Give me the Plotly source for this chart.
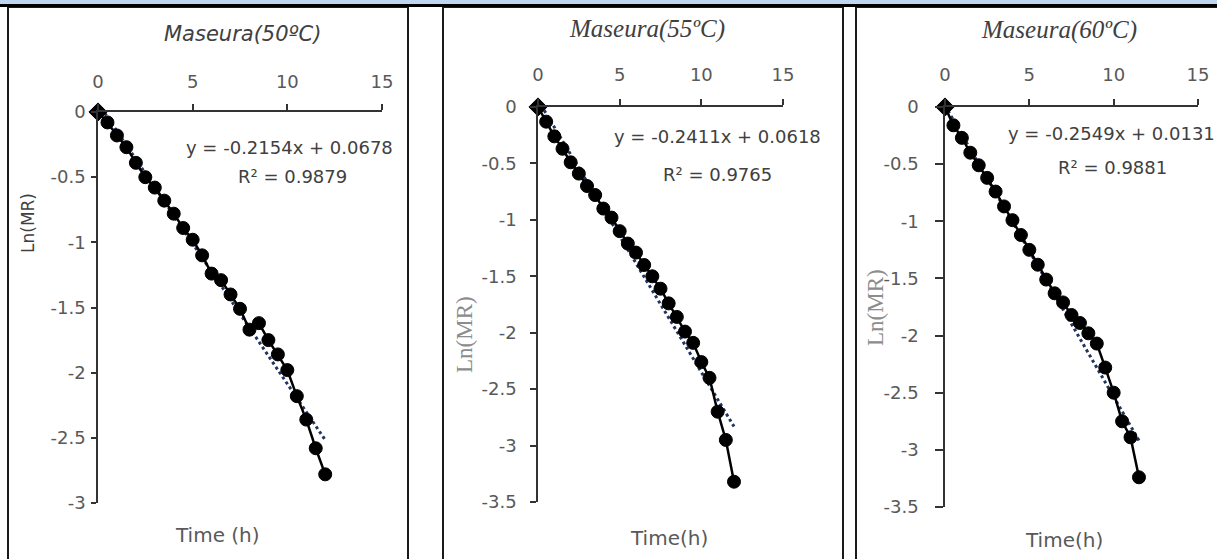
import plotly.graph_objects as go

W, H = 1217, 559

# ---------------- data ----------------
time_50 = [0, 0.5, 1, 1.5, 2, 2.5, 3, 3.5, 4, 4.5, 5, 5.5, 6, 6.5, 7, 7.5, 8, 8.5, 9, 9.5, 10, 10.5, 11, 11.5, 12]
lnmr_50 = [0, -0.08, -0.18, -0.27, -0.39, -0.50, -0.58, -0.68, -0.78, -0.89, -0.98, -1.10, -1.24, -1.29,
           -1.40, -1.51, -1.67, -1.62, -1.75, -1.86, -1.98, -2.18, -2.36, -2.58, -2.78]

time_55 = [0, 0.5, 1, 1.5, 2, 2.5, 3, 3.5, 4, 4.5, 5, 5.5, 6, 6.5, 7, 7.5, 8, 8.5, 9, 9.5, 10, 10.5, 11, 11.5, 12]
lnmr_55 = [0, -0.13, -0.26, -0.37, -0.49, -0.59, -0.70, -0.78, -0.90, -0.98, -1.10, -1.21, -1.29, -1.40,
           -1.50, -1.61, -1.74, -1.86, -1.99, -2.09, -2.26, -2.40, -2.70, -2.95, -3.32]

time_60 = [0, 0.5, 1, 1.5, 2, 2.5, 3, 3.5, 4, 4.5, 5, 5.5, 6, 6.5, 7, 7.5, 8, 8.5, 9, 9.5, 10, 10.5, 11, 11.5]
lnmr_60 = [0, -0.16, -0.27, -0.40, -0.51, -0.62, -0.74, -0.87, -0.99, -1.12, -1.25, -1.38, -1.51, -1.63,
           -1.71, -1.82, -1.89, -1.98, -2.07, -2.28, -2.50, -2.75, -2.89, -3.24]

# linear trendline coefficients (slope, intercept) and R²
slopes = [-0.2154, -0.2411, -0.2549]
intercepts = [0.0678, 0.0618, 0.0131]
r2_values = [0.9879, 0.9765, 0.9881]

titles = ["Maseura(50ºC)", "Maseura(55ºC)", "Maseura(60ºC)"]
x_titles = ["Time (h)", "Time(h)", "Time(h)"]
y_title = "Ln(MR)"

x_ticks = [0, 5, 10, 15]
x_ticktext = ["0", "5", "10", "15"]
y_ticks_50 = [0, -0.5, -1, -1.5, -2, -2.5, -3]
y_ticktext_50 = ["0", "-0.5", "-1", "-1.5", "-2", "-2.5", "-3"]
y_ticks_55 = [0, -0.5, -1, -1.5, -2, -2.5, -3, -3.5]
y_ticktext_55 = ["0", "-0.5", "-1", "-1.5", "-2", "-2.5", "-3", "-3.5"]

# ---------------- layout helpers (pixel -> paper) ----------------
def px(x):
    return x / W

def py(y):
    return 1 - y / H

series = [(time_50, lnmr_50), (time_55, lnmr_55), (time_60, lnmr_60)]
y_ranges = [[-3, 0], [-3.5, 0], [-3.5, 0]]
y_tickvals = [y_ticks_50, y_ticks_55, y_ticks_55]
y_ticktexts = [y_ticktext_50, y_ticktext_55, y_ticktext_55]
# plot areas in pixels: (left, right, top, bottom)
areas = [(98, 382, 112, 503), (538, 783, 107, 502), (945, 1198, 107, 507)]
x_standoff = [9, 11, 11]
y_standoff = [2, 10, 13]
y_ticklen = [5, 6, 8]

fig = go.Figure()

SANS = "DejaVu Sans"
SERIF = "Liberation Serif"
TICK_COLOR = "#595959"

for i, (t, v) in enumerate(series):
    xa = "x" if i == 0 else f"x{i+1}"
    ya = "y" if i == 0 else f"y{i+1}"
    # trendline (dotted)
    tx = [t[0], t[-1]]
    ty = [slopes[i] * tx[0] + intercepts[i], slopes[i] * tx[1] + intercepts[i]]
    fig.add_trace(go.Scatter(x=tx, y=ty, mode="lines", xaxis=xa, yaxis=ya,
                             line=dict(color="#1f3460", width=3, dash="dot"),
                             showlegend=False, hoverinfo="skip"))
    symbols = ["diamond"] + ["circle"] * (len(t) - 1)
    sizes = [14] + [13] * (len(t) - 1)
    fig.add_trace(go.Scatter(x=t, y=v, mode="lines+markers", xaxis=xa, yaxis=ya,
                             line=dict(color="black", width=2.5),
                             marker=dict(symbol=symbols, size=sizes, color="black", opacity=1,
                                         line=dict(color="black", width=1)),
                             opacity=1, cliponaxis=False, showlegend=False))

layout = dict(template="none", width=W, height=H, autosize=False,
              margin=dict(l=0, r=0, t=0, b=0, pad=0),
              paper_bgcolor="white", plot_bgcolor="rgba(0,0,0,0)")

for i in range(3):
    l, r, tp, bt = areas[i]
    xkey = "xaxis" if i == 0 else f"xaxis{i+1}"
    ykey = "yaxis" if i == 0 else f"yaxis{i+1}"
    yname = "y" if i == 0 else f"y{i+1}"
    xname = "x" if i == 0 else f"x{i+1}"
    tickfont = dict(family=SANS, size=18, color=TICK_COLOR)
    layout[xkey] = dict(domain=[px(l), px(r)], anchor=yname, range=[0, 15], side="top",
                        tickvals=x_ticks, ticktext=x_ticktext, ticks="outside", ticklen=6,
                        tickcolor="#333333", tickwidth=1.5, automargin=False,
                        showline=True, linecolor="#333333", linewidth=1.5,
                        showgrid=False, zeroline=False, tickfont=tickfont,
                        ticklabelstandoff=x_standoff[i], fixedrange=True)
    layout[ykey] = dict(domain=[py(bt), py(tp)], anchor=xname, range=y_ranges[i],
                        tickvals=y_tickvals[i], ticktext=y_ticktexts[i], ticks="outside",
                        ticklen=y_ticklen[i], tickcolor="#333333", tickwidth=1.5, automargin=False,
                        showline=True, linecolor="#333333", linewidth=1.5,
                        showgrid=False, zeroline=False, tickfont=tickfont,
                        ticklabelstandoff=y_standoff[i], fixedrange=True)

fig.update_layout(**layout)

annotations = []

def ann(text, x, y, font, angle=0):
    annotations.append(dict(text=text, x=px(x), y=py(y), xref="paper", yref="paper",
                            xanchor="center", yanchor="middle", showarrow=False,
                            font=font, textangle=angle))

# titles
ann(f"<i>{titles[0]}</i>", 242, 34, dict(family=SANS, size=21, color="#404040"))
ann(f"<i>{titles[1]}</i>", 647, 29, dict(family=SERIF, size=25, color="#404040"))
ann(f"<i>{titles[2]}</i>", 1059, 30, dict(family=SERIF, size=25, color="#404040"))

# equations
eq_pos = [((289, 147), (292, 177)), ((717, 136), (717, 174)), ((1111, 133), (1112, 167))]
for i in range(3):
    sgn = "+" if intercepts[i] >= 0 else "-"
    eq = f"y = {slopes[i]:.4f}x {sgn} {abs(intercepts[i]):.4f}"
    r2 = f"R² = {r2_values[i]:.4f}"
    ann(eq, eq_pos[i][0][0], eq_pos[i][0][1], dict(family=SANS, size=18, color="#404040"))
    ann(r2, eq_pos[i][1][0], eq_pos[i][1][1], dict(family=SANS, size=18, color="#404040"))

# x titles
ann(x_titles[0], 217, 535, dict(family=SANS, size=20, color="#595959"))
ann(x_titles[1], 669, 538, dict(family=SANS, size=20, color="#595959"))
ann(x_titles[2], 1064, 540, dict(family=SANS, size=20, color="#595959"))

# y titles
ann(y_title, 28, 223, dict(family=SANS, size=17, color="#404040"), -90)
ann(y_title, 464, 334, dict(family=SERIF, size=23, color="#8c8c8c"), -90)
ann(y_title, 876, 308, dict(family=SERIF, size=23, color="#8c8c8c"), -90)

shapes = []
# top band and rule
shapes.append(dict(type="rect", xref="paper", yref="paper", x0=0, x1=1, y0=py(4), y1=1,
                   fillcolor="#bdd7ee", line=dict(width=0), layer="below"))
shapes.append(dict(type="rect", xref="paper", yref="paper", x0=0, x1=1, y0=py(7), y1=py(4),
                   fillcolor="black", line=dict(width=0)))
# panel frames
for (x0, x1) in [(8, 408), (443, 843), (856, 1230)]:
    shapes.append(dict(type="rect", xref="paper", yref="paper", x0=px(x0), x1=px(x1),
                       y0=py(570), y1=py(7), line=dict(color="#1a1a1a", width=2),
                       fillcolor="rgba(0,0,0,0)", layer="below"))

fig.update_layout(annotations=annotations, shapes=shapes)

fig.write_html("out.html", config=dict(displayModeBar=False),
               post_script="document.body.style.margin='0px';document.body.style.overflow='hidden';")
